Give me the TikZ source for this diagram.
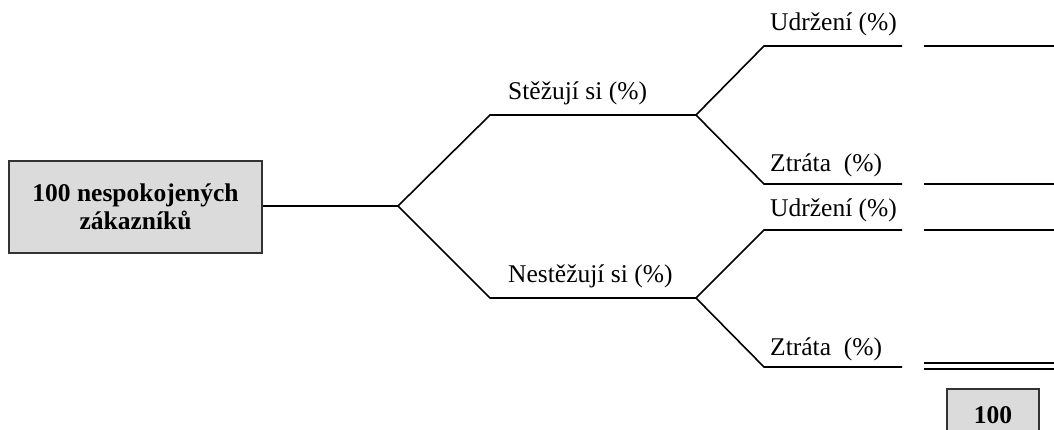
\documentclass[tikz,border=0pt]{standalone}
\usepackage{fontspec}
\setmainfont{Liberation Serif}
\begin{document}
\begin{tikzpicture}[x=1pt,y=-1pt,
  branch/.style={draw=black,line width=1.6pt},
  lbl/.style={anchor=base west,inner sep=0pt,font=\fontsize{25.5}{30}\selectfont},
  greybox/.style={draw=black!80,line width=1.8pt,fill=black!14,align=center,
    font=\fontsize{25.5}{30}\selectfont\bfseries,inner sep=0pt}]
\useasboundingbox (0,0) rectangle (1054,430);
% root box
\node[greybox,minimum width=253pt,minimum height=92pt] (root) at (135.5,207)
  {100 nespokojených\\[-2pt]zákazníků};
% branch points
\coordinate (b0) at (398,206);
\coordinate (s1) at (490,115);
\coordinate (s2) at (696,115);
\coordinate (n1) at (490,298);
\coordinate (n2) at (696,298);
\coordinate (su1) at (764,46);   \coordinate (su2) at (902,46);
\coordinate (sz1) at (764,184);  \coordinate (sz2) at (902,184);
\coordinate (nu1) at (764,230);  \coordinate (nu2) at (902,230);
\coordinate (nz1) at (764,367);  \coordinate (nz2) at (902,367);
% result lines
\coordinate (r1a) at (924,46);  \coordinate (r1b) at (1054,46);
\coordinate (r2a) at (924,184); \coordinate (r2b) at (1054,184);
\coordinate (r3a) at (924,230); \coordinate (r3b) at (1054,230);
\coordinate (r4a) at (924,363); \coordinate (r4b) at (1054,363);
\coordinate (r5a) at (924,369); \coordinate (r5b) at (1054,369);
% tree
\draw[branch] (root.east |- b0) -- (b0);
\draw[branch] (b0) -- (s1) -- (s2);
\draw[branch] (b0) -- (n1) -- (n2);
\draw[branch] (s2) -- (su1) -- (su2);
\draw[branch] (s2) -- (sz1) -- (sz2);
\draw[branch] (n2) -- (nu1) -- (nu2);
\draw[branch] (n2) -- (nz1) -- (nz2);
\draw[branch] (r1a) -- (r1b);
\draw[branch] (r2a) -- (r2b);
\draw[branch] (r3a) -- (r3b);
\draw[branch] (r4a) -- (r4b);
\draw[branch] (r5a) -- (r5b);
% labels
\node[lbl] (ls) at (508,100) {Stěžují si (\%)};
\node[lbl] (ln) at (508,282) {Nestěžují si (\%)};
\node[lbl] (lsu) at (770,31) {Udržení (\%)};
\node[lbl] (lsz) at (770,172) {Ztráta~ (\%)};
\node[lbl] (lnu) at (770,217) {Udržení (\%)};
\node[lbl] (lnz) at (770,355) {Ztráta~ (\%)};
% total
\draw[draw=black!80,line width=1.8pt,fill=black!14] (947,389) rectangle (1039,440);
\node[font=\fontsize{25.5}{30}\selectfont\bfseries,inner sep=0pt] (total) at (993,415) {100};
\end{tikzpicture}
\end{document}
